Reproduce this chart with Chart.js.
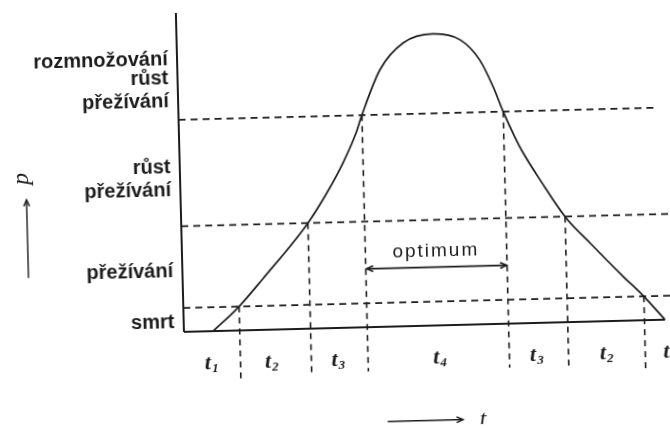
<!DOCTYPE html>
<html lang="cs">
<head>
<meta charset="utf-8">
<title>Závislost na podmínkách prostředí</title>
<script src="https://cdn.jsdelivr.net/npm/chart.js@4.4.1/dist/chart.umd.min.js"></script>
<style>
  html, body { margin: 0; padding: 0; background: #fff; overflow: hidden; }
  #graf { display: block; transform: rotate(-1.45deg); }
</style>
</head>
<body>
<canvas id="graf" width="670" height="428"></canvas>
<script>
// křivka p(t)
const curveT = [6.0, 11.4, 16.4, 25.9, 29.9, 33.4, 36.3, 37.5, 41.4, 46.3, 52.5, 58.0, 61.9, 64.5, 66.4, 68.7, 70.2, 73.6, 78.5, 83.5, 90.0, 94.2, 98.4];
const curveP = [0, 7.5, 16.0, 33.1, 42.3, 51.7, 61.3, 66.5, 80.5, 88.8, 91.4, 89.3, 82.8, 74.3, 66.5, 58.3, 53.6, 44.8, 33.1, 24.6, 14.0, 7.5, 0];

// hranice pásem (čárkované vodorovné)
const levelP = [7.5, 33.1, 66.5];
const levelEndT = [100, 100, 97.5];

// hranice období t1..t4 (čárkované svislé)
const boundaryT = [11.4, 25.9, 37.5, 66.4, 78.5, 94.2];
const boundaryTopP = [7.5, 33.1, 66.5, 66.5, 33.1, 7.5];
const boundaryBottomP = [-16.1, -15.1, -13.9, -13.8, -14.3, -16.2];

// popisky období
const phaseIndex = ['1', '2', '3', '4', '3', '2', '1'];
const phaseT = [5.5, 17.8, 31.4, 52.2, 72.0, 86.3, 99.3];
const phaseP = -10;

// popisky pásem u svislé osy
const zoneLines = ['rozmnožování', 'růst', 'přežívání', 'růst', 'přežívání', 'přežívání', 'smrt'];
const zoneLineP = [83.8, 77.8, 70.6, 49.8, 42.5, 17.2, 1.2];

// optimum
const optimumT = [37.7, 66.3];
const optimumP = 18.3;

const ink = '#1c1c1c';

function lineSet(points, dash, width) {
  return {
    data: points,
    showLine: true,
    borderColor: ink,
    borderWidth: width,
    borderDash: dash,
    pointRadius: 0,
    clip: false
  };
}

const datasets = [];

const curve = lineSet(curveT.map((t, i) => ({ x: t, y: curveP[i] })), [], 1.7);
curve.cubicInterpolationMode = 'monotone';
datasets.push(curve);

// osy
datasets.push(lineSet([{ x: 0, y: 0 }, { x: 0, y: 100 }], [], 2));
datasets.push(lineSet([{ x: 0, y: 0 }, { x: 98.4, y: 0 }], [], 2));

levelP.forEach((p, i) => {
  datasets.push(lineSet([{ x: 0, y: p }, { x: levelEndT[i], y: p }], [7, 5], 1.6));
});

boundaryT.forEach((t, i) => {
  datasets.push(lineSet([{ x: t, y: boundaryTopP[i] }, { x: t, y: boundaryBottomP[i] }], [6, 5], 1.6));
});

// šipky
datasets.push(lineSet([{ x: optimumT[0], y: optimumP }, { x: optimumT[1], y: optimumP }], [], 1.6));
datasets.push(lineSet([{ x: -31.5, y: 18.1 }, { x: -31.5, y: 42.6 }], [], 1.4));
datasets.push(lineSet([{ x: 41.2, y: -29.7 }, { x: 56.6, y: -29.7 }], [], 1.4));

function arrowHead(ctx, x, y, ang) {
  const len = 7, spread = 0.42;
  ctx.beginPath();
  ctx.moveTo(x - len * Math.cos(ang - spread), y - len * Math.sin(ang - spread));
  ctx.lineTo(x, y);
  ctx.lineTo(x - len * Math.cos(ang + spread), y - len * Math.sin(ang + spread));
  ctx.stroke();
}

const labelsPlugin = {
  id: 'labels',
  afterDatasetsDraw(chart) {
    const { ctx, scales: { x, y } } = chart;
    ctx.save();
    ctx.fillStyle = ink;
    ctx.strokeStyle = ink;
    ctx.lineWidth = 1.5;

    // pásma u svislé osy
    ctx.font = 'bold 20px "Liberation Sans", Arial, sans-serif';
    ctx.textAlign = 'right';
    ctx.textBaseline = 'alphabetic';
    zoneLines.forEach((s, i) => {
      ctx.fillText(s, x.getPixelForValue(-1.9), y.getPixelForValue(zoneLineP[i]));
    });

    // t1 .. t4
    const mainFont = 'bold italic 22px "Liberation Serif", "Times New Roman", serif';
    const subFont = 'bold italic 13px "Liberation Serif", "Times New Roman", serif';
    ctx.textAlign = 'left';
    ctx.textBaseline = 'middle';
    phaseIndex.forEach((n, i) => {
      ctx.font = mainFont;
      const wt = ctx.measureText('t').width;
      ctx.font = subFont;
      const wn = ctx.measureText(n).width;
      const x0 = x.getPixelForValue(phaseT[i]) - (wt + wn + 1) / 2;
      const yc = y.getPixelForValue(phaseP);
      ctx.font = mainFont;
      ctx.fillText('t', x0, yc);
      ctx.font = subFont;
      ctx.fillText(n, x0 + wt + 1, yc + 6);
    });

    // optimum
    ctx.font = '19px "Liberation Sans", Arial, sans-serif';
    ctx.letterSpacing = '2px';
    ctx.textAlign = 'center';
    ctx.textBaseline = 'alphabetic';
    ctx.fillText('optimum', x.getPixelForValue(51.7) + 1, y.getPixelForValue(21.6));
    ctx.letterSpacing = '0px';

    const oy = y.getPixelForValue(optimumP);
    arrowHead(ctx, x.getPixelForValue(optimumT[0]), oy, Math.PI);
    arrowHead(ctx, x.getPixelForValue(optimumT[1]), oy, 0);

    // osa p
    arrowHead(ctx, x.getPixelForValue(-31.5), y.getPixelForValue(42.6), -Math.PI / 2);
    ctx.save();
    ctx.translate(x.getPixelForValue(-31.9), y.getPixelForValue(49.2));
    ctx.rotate(-Math.PI / 2);
    ctx.font = 'italic 24px "Liberation Serif", "Times New Roman", serif';
    ctx.textAlign = 'center';
    ctx.textBaseline = 'middle';
    ctx.fillText('p', 0, -2);
    ctx.restore();

    // osa t
    arrowHead(ctx, x.getPixelForValue(56.6), y.getPixelForValue(-29.7), 0);
    ctx.font = 'italic 24px "Liberation Serif", "Times New Roman", serif';
    ctx.textAlign = 'center';
    ctx.textBaseline = 'middle';
    ctx.fillText('t', x.getPixelForValue(60.7), y.getPixelForValue(-30));

    ctx.restore();
  }
};

new Chart(document.getElementById('graf'), {
  type: 'scatter',
  data: { datasets },
  options: {
    responsive: false,
    animation: false,
    layout: { padding: { left: 181, right: 0, top: 9, bottom: 100 } },
    scales: {
      x: { type: 'linear', min: 0, max: 100, display: false },
      y: { type: 'linear', min: 0, max: 100, display: false }
    },
    plugins: {
      legend: { display: false },
      tooltip: { enabled: false }
    }
  },
  plugins: [labelsPlugin]
});
</script>
</body>
</html>
